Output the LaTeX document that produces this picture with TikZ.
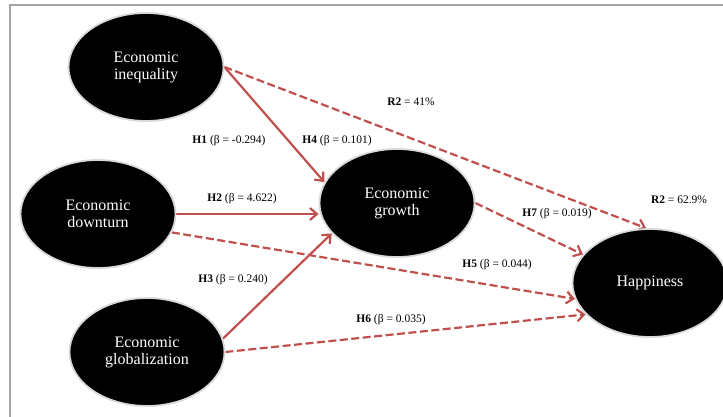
\documentclass[tikz,border=0pt]{standalone}
\usepackage{fontspec}
\setmainfont{Liberation Serif}
\usepackage{tikz}
\definecolor{arrred}{RGB}{192, 80, 77}
\definecolor{frgray}{RGB}{165, 165, 165}
\usetikzlibrary{arrows.meta}
\usetikzlibrary{shapes.geometric}
\pgfdeclarelayer{edgelayer}
\pgfdeclarelayer{nodelayer}
\pgfsetlayers{edgelayer,nodelayer,main}
\tikzstyle{var}=[ellipse,fill=black,draw=black!15,line width=1.8pt,inner sep=1pt,minimum width=155pt,minimum height=108pt,text=white,align=center,font=\fontsize{16}{17}\selectfont]
\tikzstyle{lbl}=[font=\fontsize{11.5}{13}\selectfont]
\tikzstyle{direct}=[-{Straight Barb[length=7pt,width=12pt]},arrred,line width=2.2pt]
\tikzstyle{indirect}=[direct,dash pattern=on 8pt off 3.5pt]

\begin{document}
\begin{tikzpicture}[x=1pt, y=-1pt]
        \useasboundingbox (0, 0) rectangle (723, 417);
        \draw [frgray, line width=1.8pt] (10, 417) -- (10, 5) -- (723, 5);

        \begin{pgfonlayer}{nodelayer}
            \node [style = var] (ineq) at (146, 67) {Economic\\inequality};
            \node [style = var] (down) at (98, 214) {Economic\\downturn};
            \node [style = var] (glob) at (147, 352) {Economic\\globalization};
            \node [style = var] (grow) at (397, 203) {Economic\\growth};
            \node [style = var] (happy) at (650, 283) {Happiness};

            \node [style = lbl] (h1) at (229, 141) {\textbf{H1} (β = -0.294)};
            \node [style = lbl] (h4) at (337, 141) {\textbf{H4} (β = 0.101)};
            \node [style = lbl] (r2a) at (411, 102) {\textbf{R2} = 41\%};
            \node [style = lbl] (h2) at (242, 199) {\textbf{H2} (β = 4.622)};
            \node [style = lbl] (r2b) at (679, 200) {\textbf{R2} = 62.9\%};
            \node [style = lbl] (h7) at (557, 214) {\textbf{H7} (β = 0.019)};
            \node [style = lbl] (h5) at (497, 265) {\textbf{H5} (β = 0.044)};
            \node [style = lbl] (h3) at (233, 280) {\textbf{H3} (β = 0.240)};
            \node [style = lbl] (h6) at (391, 320) {\textbf{H6} (β = 0.035)};
        \end{pgfonlayer}

        \begin{pgfonlayer}{edgelayer}
            \draw [style = direct] (ineq.east) to (grow.164);
            \draw [style = direct] (down.east) to (grow.west |- down.east);
            \draw [style = direct] (glob.10) to (grow.205);
            \draw [style = indirect] (ineq.east) to (happy.94);
            \draw [style = indirect] (down.-14) to (happy.192);
            \draw [style = indirect] (glob.east) to (happy.206);
            \draw [style = indirect] (grow.east) to (happy.157);
        \end{pgfonlayer}
    \end{tikzpicture}
\end{document}
